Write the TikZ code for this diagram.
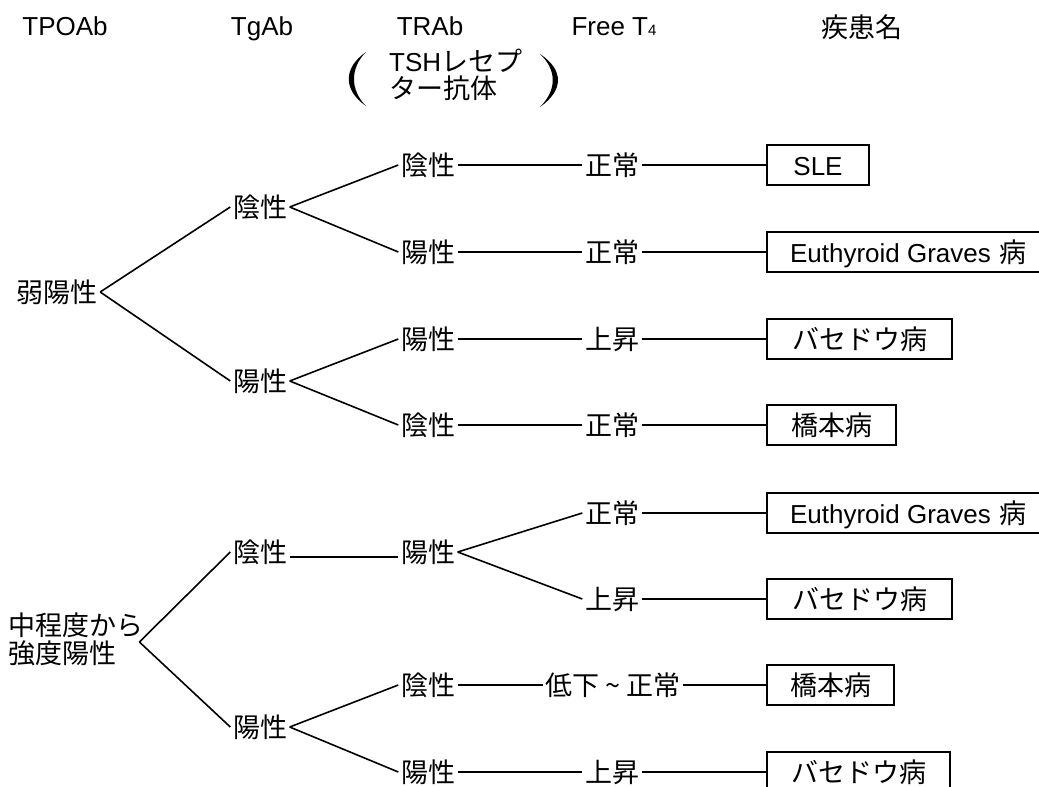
\documentclass[tikz,border=0pt]{standalone}
\usepackage{fontspec}
\setmainfont{Liberation Sans}
\newfontfamily\jpfont{Noto Sans CJK JP}
\usetikzlibrary{calc}
\newcommand\jtxt[1]{{\jpfont\fontsize{27}{28}\selectfont #1}}
\tikzset{
  lbl/.style={font=\jpfont\fontsize{27}{28}\selectfont, inner sep=2.5pt, text height=23pt, text depth=3pt},
  hdr/.style={font=\fontsize{26}{28}\selectfont, anchor=base, inner sep=0pt},
  dbox/.style={draw, line width=2pt, anchor=west, minimum height=40pt, inner sep=0pt, text height=23pt, text depth=3pt, font=\fontsize{26}{28}\selectfont},
  conn/.style={line width=1.6pt},
}
\begin{document}
\begin{tikzpicture}[x=1pt,y=-1pt]
\useasboundingbox (0,0) rectangle (1039,787);
\fill[white] (0,0) rectangle (1039,787);
\clip (0,0) rectangle (1039,787);

% headers
\node[hdr] (h1) at (65,35) {TPOAb};
\node[hdr] (h2) at (262,35) {TgAb};
\node[hdr] (h3) at (430,35) {TRAb};
\node[hdr] (h4) at (614,35) {Free T{\fontsize{15}{15}\selectfont 4}};
\node[hdr] (h5) at (862,37) {\jtxt{疾患名}};
\node[anchor=west, inner sep=0pt, align=left, font=\fontsize{26}{27}\selectfont] (tsh) at (389,74.5) {TSH\jtxt{レセプ}\\\jtxt{ター抗体}};
\fill (366,52) .. controls (343,68) and (343,90) .. (366,106) .. controls (350,90) and (350,68) .. cycle;
\fill (540,54) .. controls (564,70) and (564,90) .. (540,107) .. controls (557,90) and (557,70) .. cycle;

% tree 1
\node[lbl] (r1) at (57,292) {弱陽性};
\node[lbl] (a1) at (260,207) {陰性};
\node[lbl] (a2) at (260,381) {陽性};
\node[lbl] (b1) at (428,165) {陰性};
\node[lbl] (b2) at (428,252) {陽性};
\node[lbl] (b3) at (428,339) {陽性};
\node[lbl] (b4) at (428,425) {陰性};
\node[lbl] (c1) at (612,165) {正常};
\node[lbl] (c2) at (612,252) {正常};
\node[lbl] (c3) at (612,339) {上昇};
\node[lbl] (c4) at (612,425) {正常};
\node[dbox, minimum width=102pt] (d1) at (766,165) {SLE};
\node[dbox, minimum width=283pt] (d2) at (766,252) {Euthyroid Graves\hspace{9pt}\jtxt{病}};
\node[dbox, minimum width=185pt] (d3) at (766,339) {\jtxt{バセドウ病}};
\node[dbox, minimum width=129pt] (d4) at (766,425) {\jtxt{橋本病}};

\draw[conn] (r1.east) -- (a1.west);
\draw[conn] (r1.east) -- (a2.west);
\draw[conn] (a1.east) -- (b1.west);
\draw[conn] (a1.east) -- (b2.west);
\draw[conn] (a2.east) -- (b3.west);
\draw[conn] (a2.east) -- (b4.west);
\draw[conn] (b1.east) -- (c1.west);
\draw[conn] (b2.east) -- (c2.west);
\draw[conn] (b3.east) -- (c3.west);
\draw[conn] (b4.east) -- (c4.west);
\draw[conn] (c1.east) -- (d1.west);
\draw[conn] (c2.east) -- (d2.west);
\draw[conn] (c3.east) -- (d3.west);
\draw[conn] (c4.east) -- (d4.west);

% tree 2
\node[anchor=west, inner sep=0pt, align=left, font=\jpfont\fontsize{27}{28}\selectfont] (r2) at (8,639) {中程度から\\強度陽性};
\node[lbl] (e1) at (260,552) {陰性};
\node[lbl] (e2) at (260,727) {陽性};
\node[lbl] (f1) at (428,552) {陽性};
\node[lbl] (f2) at (428,685) {陰性};
\node[lbl] (f3) at (428,772) {陽性};
\node[lbl] (g1) at (612,513) {正常};
\node[lbl] (g2) at (612,599) {上昇};
\node[lbl] (g3) at (613,685) {低下 \textasciitilde{} 正常};
\node[lbl] (g4) at (612,772) {上昇};
\node[dbox, minimum width=283pt] (k1) at (766,513) {Euthyroid Graves\hspace{9pt}\jtxt{病}};
\node[dbox, minimum width=185pt] (k2) at (766,599) {\jtxt{バセドウ病}};
\node[dbox, minimum width=127pt] (k3) at (766,685) {\jtxt{橋本病}};
\node[dbox, minimum width=183pt] (k4) at (766,772) {\jtxt{バセドウ病}};

\draw[conn] ($(r2.east)+(-4,3)$) -- (e1.west);
\draw[conn] ($(r2.east)+(-4,3)$) -- (e2.west);
\draw[conn] ($(e1.east)+(0,5)$) -- ($(f1.west)+(0,5)$);
\draw[conn] (f1.east) -- (g1.west);
\draw[conn] (f1.east) -- (g2.west);
\draw[conn] (e2.east) -- (f2.west);
\draw[conn] (e2.east) -- (f3.west);
\draw[conn] (f2.east) -- (g3.west);
\draw[conn] (f3.east) -- (g4.west);
\draw[conn] (g1.east) -- (k1.west);
\draw[conn] (g2.east) -- (k2.west);
\draw[conn] (g3.east) -- (k3.west);
\draw[conn] (g4.east) -- (k4.west);
\end{tikzpicture}
\end{document}
